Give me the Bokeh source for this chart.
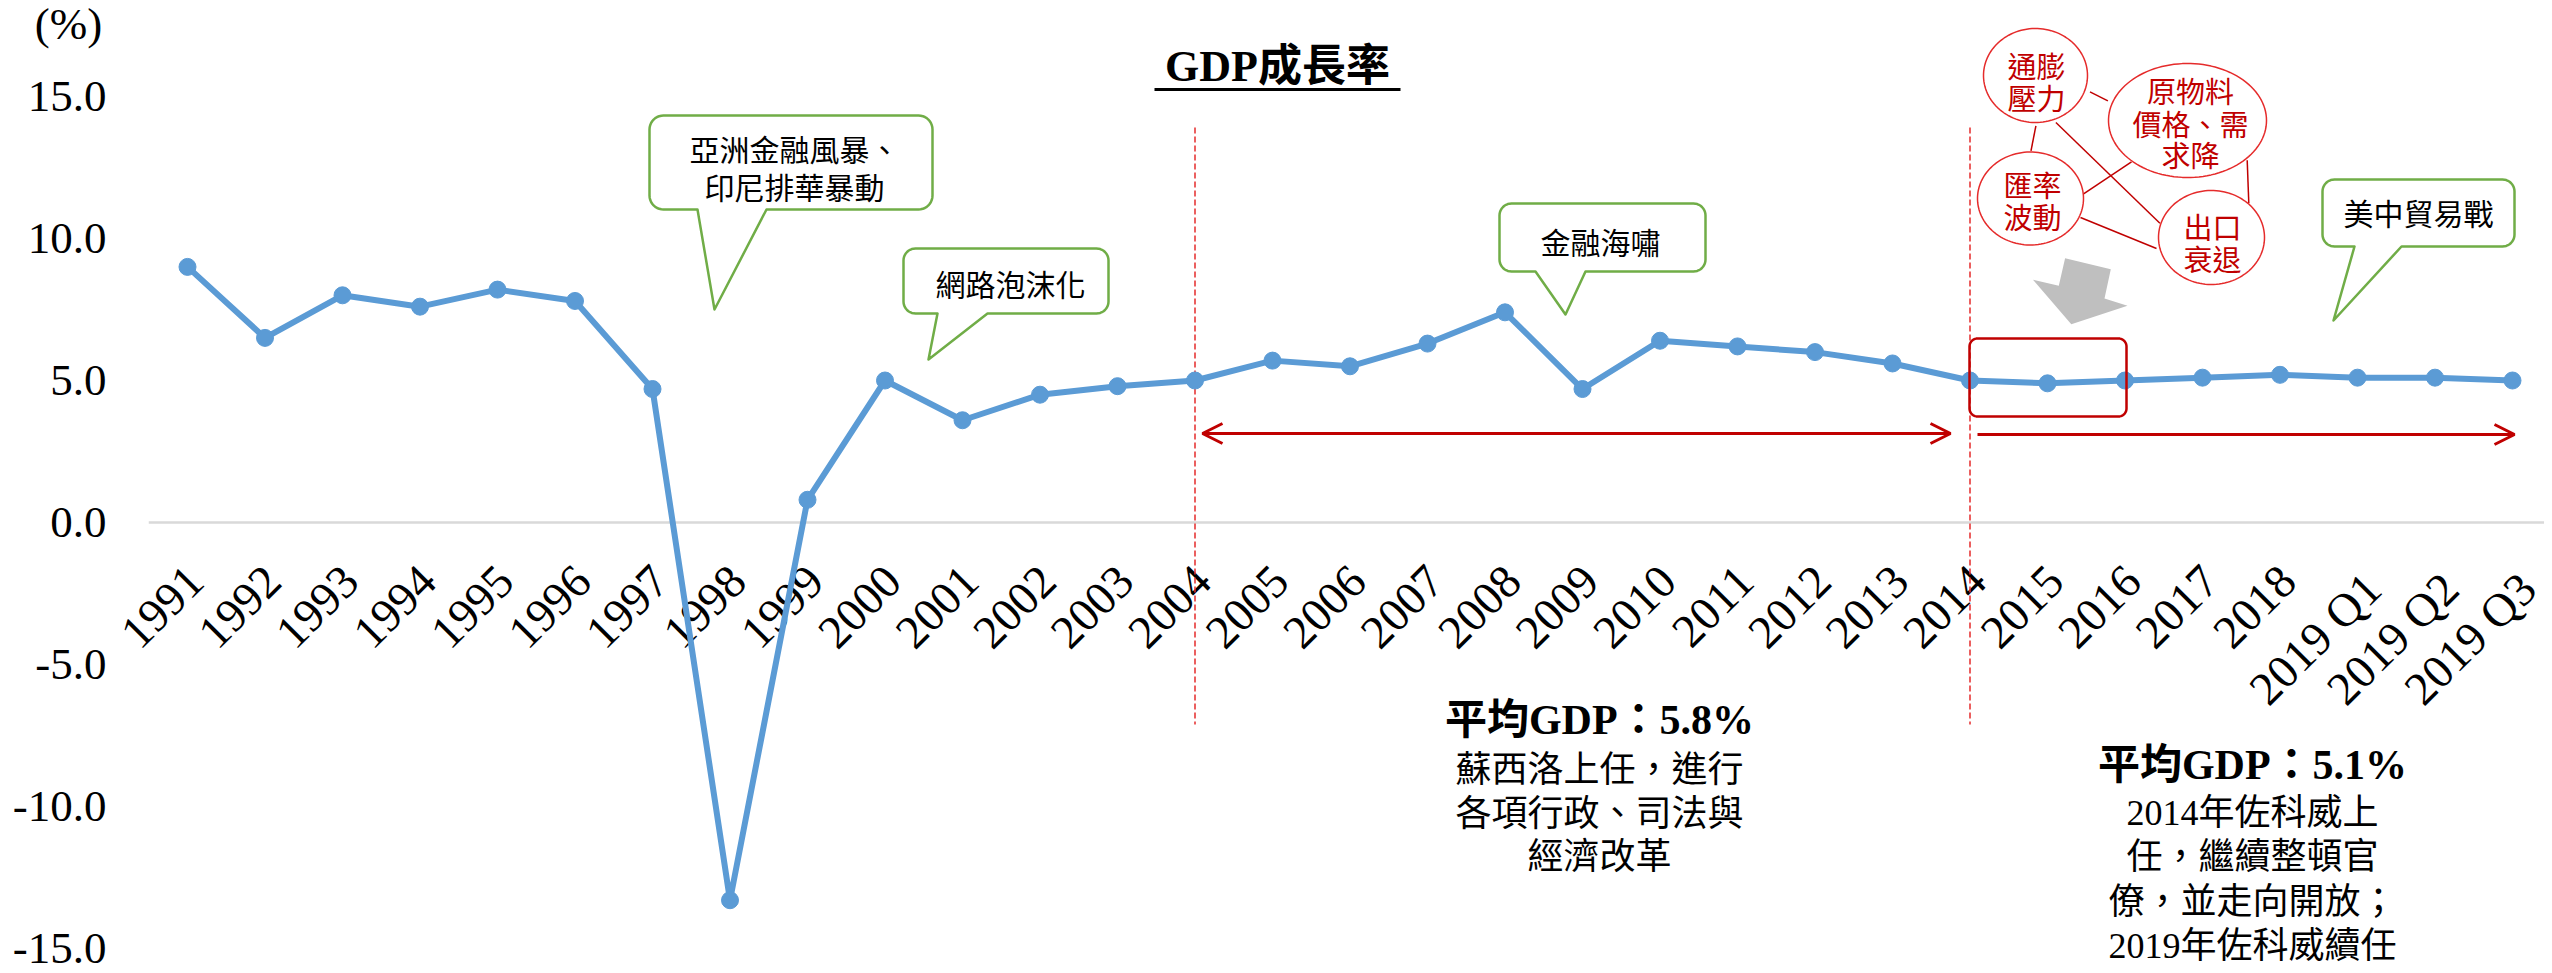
import math
import numpy as np
from bokeh.plotting import figure
from bokeh.models import Range1d, Arrow, OpenHead
from bokeh.core.properties import value
from bokeh.embed import file_html
from bokeh.resources import INLINE

# ---------------- data ----------------
categories = ["1991", "1992", "1993", "1994", "1995", "1996", "1997", "1998", "1999", "2000",
              "2001", "2002", "2003", "2004", "2005", "2006", "2007", "2008", "2009", "2010",
              "2011", "2012", "2013", "2014", "2015", "2016", "2017", "2018",
              "2019 Q1", "2019 Q2", "2019 Q3"]
gdp_growth = [9.0, 6.5, 8.0, 7.6, 8.2, 7.8, 4.7, -13.3, 0.8, 5.0,
              3.6, 4.5, 4.8, 5.0, 5.7, 5.5, 6.3, 7.4, 4.7, 6.4,
              6.2, 6.0, 5.6, 5.0, 4.9, 5.0, 5.1, 5.2, 5.1, 5.1, 5.0]
y_ticks = [-15, -10, -5, 0, 5, 10, 15]
y_tick_labels = ["%.1f" % v for v in y_ticks]
period_starts = ["2004", "2014"]

title_text = "GDP成長率"
unit_text = "(%)"
callouts = [
    ["亞洲金融風暴、", "印尼排華暴動"],
    ["網路泡沫化"],
    ["金融海嘯"],
    ["美中貿易戰"],
]
bubbles = [["通膨", "壓力"], ["原物料", "價格、需", "求降"], ["匯率", "波動"], ["出口", "衰退"]]
block1 = ["平均GDP：5.8%", "蘇西洛上任，進行", "各項行政、司法與", "經濟改革"]
block2 = ["平均GDP：5.1%", "2014年佐科威上", "任，繼續整頓官", "僚，並走向開放；", "2019年佐科威續任"]

# ---------------- layout helpers (page pixel -> data) ----------------
X0, DX = 195.0, 77.5     # page x of first category, px per category
Y0, DY = 530.0, 28.4     # page y of zero line, px per percent


def X(px):
    return (px - X0) / DX


def Y(py):
    return (Y0 - py) / DY


RED = "#C00000"
RED2 = "#E52B2B"
GREEN = "#70AD47"
BLUE = "#5B9BD5"
SERIF = "Liberation Serif"
MIX = "'Liberation Serif', 'Noto Sans CJK TC'"
CJK = "Noto Sans CJK TC"

p = figure(width=2544, height=965,
           x_range=Range1d(X(8), X(2552)), y_range=Range1d(Y(973), Y(8)),
           output_backend="svg", toolbar_location=None,
           x_axis_location=None, y_axis_location=None,
           min_border_left=0, min_border_right=0, min_border_top=0, min_border_bottom=0)
p.outline_line_color = None
p.background_fill_color = "white"
p.border_fill_color = "white"
p.xgrid.grid_line_color = None
p.ygrid.grid_line_color = None

idx = list(range(len(categories)))

# zero line
p.segment(x0=[-0.5], y0=[0], x1=[X(2552)], y1=[0], line_color="#D9D9D9", line_width=2.5)

# value-axis labels
p.text(x=[X(114)] * len(y_ticks), y=y_ticks, text=y_tick_labels,
       text_font=value(SERIF), text_font_size="45px", text_color="black",
       text_align="right", text_baseline="middle")

# category labels at the zero line
p.text(x=idx, y=[0] * len(idx), text=categories, angle=math.pi / 4,
       text_align="right", text_baseline="top", x_offset=-3, y_offset=40,
       text_font=value(SERIF), text_font_size="47px", text_color="black")

# period dividers
for cat in period_starts:
    i = categories.index(cat)
    p.segment(x0=[i], y0=[Y(135)], x1=[i], y1=[Y(732)], line_color=RED2,
              line_width=1.5, line_dash="6 3")

# period arrows
p.add_layout(Arrow(start=OpenHead(size=20, line_color=RED, line_width=3),
                   end=OpenHead(size=20, line_color=RED, line_width=3),
                   x_start=X(1210), y_start=Y(441), x_end=X(1958), y_end=Y(441),
                   line_color=RED, line_width=3))
p.add_layout(Arrow(start=None,
                   end=OpenHead(size=20, line_color=RED, line_width=3),
                   x_start=X(1985), y_start=Y(442), x_end=X(2522), y_end=Y(442),
                   line_color=RED, line_width=3))

# data line
p.line(idx, gdp_growth, line_color=BLUE, line_width=6, line_join="round")
p.scatter(idx, gdp_growth, size=17, color=BLUE)


def rrect(x0, y0, x1, y1, r, pointer=None):
    pts = []

    def arc(cx, cy, a0, a1, n=10):
        for k in range(n + 1):
            a = math.radians(a0 + (a1 - a0) * k / n)
            pts.append((cx + r * math.cos(a), cy + r * math.sin(a)))
    arc(x0 + r, y0 + r, 180, 270)
    arc(x1 - r, y0 + r, 270, 360)
    arc(x1 - r, y1 - r, 0, 90)
    if pointer:
        bx0, bx1, tx, ty = pointer
        pts += [(bx1, y1), (tx, ty), (bx0, y1)]
    arc(x0 + r, y1 - r, 90, 180)
    pts.append(pts[0])
    return [X(a) for a, b in pts], [Y(b) for a, b in pts]


def ell(cx, cy, rx, ry):
    t = np.linspace(0, 2 * np.pi, 120)
    return list(X(cx + rx * np.cos(t))), list(Y(cy + ry * np.sin(t)))


# red highlight box
bx, by = rrect(1977, 346, 2134, 424, 8)
p.line(bx, by, line_color=RED, line_width=2.5)

# gray arrow
garrow = [(2072.6, 265.7), (2118.3, 276.7), (2112, 306), (2135, 313.3),
          (2078.8, 331.7), (2040.5, 287.3), (2066.3, 293.3)]
p.patch([X(a) for a, b in garrow], [Y(b) for a, b in garrow], fill_color="#BFBFBF", line_color=None)

# green callouts
callout_geom = [
    ((657, 123, 940, 217, 14), (705, 774, 722, 317), 802, [155, 193]),
    ((911, 256, 1116, 321, 12), (945, 995, 936, 367), 1018, [290]),
    ((1507, 211, 1713, 279, 12), (1543, 1593, 1573, 322), 1608, [248]),
    ((2330, 187, 2522, 254, 12), (2362, 2409, 2341, 328), 2426, [219]),
]
for (box, ptr, tx, tys), lines in zip(callout_geom, callouts):
    xs, ys = rrect(*box, pointer=ptr)
    p.patch(xs, ys, fill_color="white", line_color=GREEN, line_width=2.5, line_join="round")
    p.text(x=[X(tx)] * len(lines), y=[Y(t) for t in tys], text=lines,
           text_font=value(CJK), text_font_size="30px", text_color="black",
           text_align="center", text_baseline="middle")

# connector lines between bubbles
links = [((2097.5, 99.3), (2115.4, 108.3)), ((2043.4, 133.3), (2038.5, 158.3)),
         ((2063.4, 130), (2167.4, 230.7)), ((2139, 169.3), (2089.2, 202.7)),
         ((2254.7, 167.7), (2256.3, 210.7)), ((2088, 225), (2164, 256))]
p.segment(x0=[X(a[0]) for a, b in links], y0=[Y(a[1]) for a, b in links],
          x1=[X(b[0]) for a, b in links], y1=[Y(b[1]) for a, b in links],
          line_color=RED, line_width=1.5)

bubble_geom = [
    ((2043, 83, 52, 47), 2044, [72, 104]),
    ((2195, 128, 79, 57), 2198, [97, 130, 161]),
    ((2038, 206, 53, 46.5), 2040, [191, 223]),
    ((2219, 245, 53, 47), 2220, [233, 265]),
]
for (e, tx, tys), lines in zip(bubble_geom, bubbles):
    xs, ys = ell(*e)
    p.patch(xs, ys, fill_color="white", line_color=RED2, line_width=1.5)
    p.text(x=[X(tx)] * len(lines), y=[Y(t) for t in tys], text=lines,
           text_font=value(CJK), text_font_size="29px", text_color=RED,
           text_align="center", text_baseline="middle")

# title + unit
p.text(x=[X(1285)], y=[Y(74)], text=[title_text], text_font=value(MIX),
       text_font_size="44px", text_font_style="bold", text_color="black",
       text_align="center", text_baseline="middle")
p.segment(x0=[X(1162)], y0=[Y(97)], x1=[X(1408)], y1=[Y(97)], line_color="black", line_width=3)
p.text(x=[X(76)], y=[Y(31)], text=[unit_text], text_font=value(SERIF),
       text_font_size="45px", text_color="black", text_align="center", text_baseline="middle")

# text blocks
for cx, ys, lines in [(1607, [727, 777, 821, 864], block1),
                      (2260, [772, 820, 864, 909, 953], block2)]:
    p.text(x=[X(cx)], y=[Y(ys[0])], text=[lines[0]], text_font=value(MIX),
           text_font_size="42px", text_font_style="bold", text_color="black",
           text_align="center", text_baseline="middle")
    p.text(x=[X(cx)] * (len(lines) - 1), y=[Y(v) for v in ys[1:]], text=lines[1:],
           text_font=value(MIX), text_font_size="36px", text_color="black",
           text_align="center", text_baseline="middle")

open("out.html", "w").write(file_html(p, INLINE))
